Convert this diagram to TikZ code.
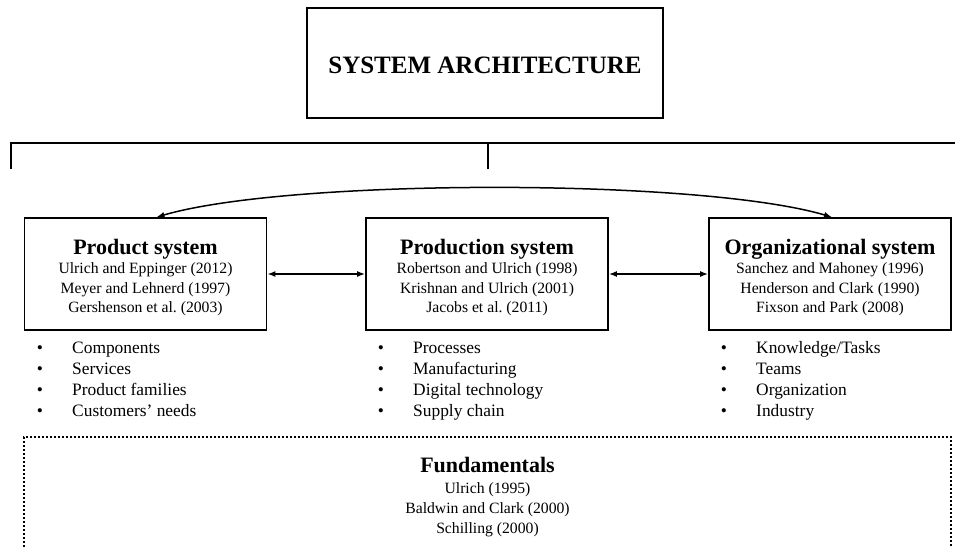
\documentclass[tikz,border=0pt]{standalone}
\usepackage{fontspec}
\setmainfont{Liberation Serif}
\usetikzlibrary{arrows.meta,positioning}
\frenchspacing
\newcommand\systitle[1]{{\fontsize{22}{19.5}\selectfont\bfseries\rule{0pt}{22pt}#1}}

\begin{document}
\begin{tikzpicture}[x=1pt,y=-1pt,
  boxline/.style={draw,line width=1.7pt,inner sep=0pt},
  sysbox/.style={boxline,minimum width=242pt,minimum height=112pt,align=center,font=\fontsize{15.7}{19.5}\selectfont},
  link/.style={line width=1.5pt,{Latex[length=8pt,width=6pt]}-{Latex[length=8pt,width=6pt]}},
  bul/.style={anchor=base,inner sep=0pt,font=\fontsize{17.4}{21}\selectfont},
  item/.style={anchor=base west,inner sep=0pt,font=\fontsize{17.4}{21}\selectfont}]
\useasboundingbox (0,0) rectangle (955,547);
%top box
\node[boxline,minimum width=356pt,minimum height=110pt,text height=22pt,font=\fontsize{25}{30}\selectfont\bfseries] (arch) at (485,63) {SYSTEM ARCHITECTURE};
% bracket
\coordinate (brl) at (11,169);
\coordinate (brr) at (956,143);
\coordinate (brm) at (488,169);
\draw[line width=1.5pt] (brl) |- (brr);
\draw[line width=1.5pt] (brm) -- (brm |- brr);
% the three systems
\node[sysbox] (prod) at (145.5,274) {\systitle{Product system}\\Ulrich and Eppinger (2012)\\Meyer and Lehnerd (1997)\\Gershenson et al. (2003)};
\node[sysbox] (prodn) at (487,274) {\systitle{Production system}\\Robertson and Ulrich (1998)\\Krishnan and Ulrich (2001)\\Jacobs et al. (2011)};
\node[sysbox] (org) at (830,274) {\systitle{Organizational system}\\Sanchez and Mahoney (1996)\\Henderson and Clark (1990)\\Fixson and Park (2008)};
\draw[link] (prod) -- (prodn);
\draw[link] (prodn) -- (org);
\draw[link] ([xshift=11pt]prod.north) .. controls +(133,-39) and +(-132,-39) .. ([xshift=2pt]org.north);
% lists
\foreach \txt [count=\i] in {Components,Services,Product families,Customers' needs}{
\node[bul] (pb\i) at (40,332+21*\i) {\textbullet};
\node[item] (pt\i) at (72,332+21*\i) {\txt};
}
\foreach \txt [count=\i] in {Processes,Manufacturing,Digital technology,Supply chain}{
\node[bul] (mb\i) at (381,332+21*\i) {\textbullet};
\node[item] (mt\i) at (413,332+21*\i) {\txt};
}
\foreach \txt [count=\i] in {Knowledge/Tasks,Teams,Organization,Industry}{
\node[bul] (ob\i) at (724,332+21*\i) {\textbullet};
\node[item] (ot\i) at (756,332+21*\i) {\txt};
}
% fundamentals
\node[boxline,dash pattern=on 2pt off 2pt,minimum width=927pt,minimum height=126pt] (fund) at (487.5,500) {};
\node[align=center,inner sep=0pt,font=\fontsize{15.7}{20}\selectfont,below=14pt of fund.north] (fundtxt) {\systitle{Fundamentals}\\[1pt]Ulrich (1995)\\Baldwin and Clark (2000)\\Schilling (2000)};
\end{tikzpicture}
\end{document}
